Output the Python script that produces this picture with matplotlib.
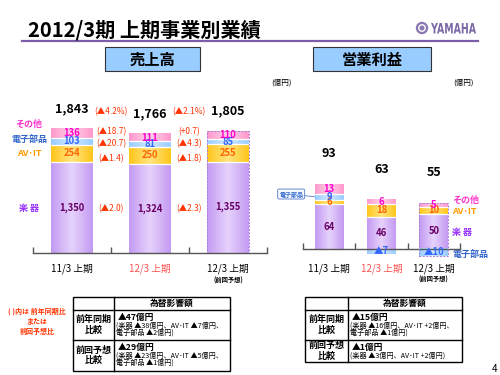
import numpy as np
import matplotlib.pyplot as plt
from matplotlib.colors import to_rgb
from matplotlib.patches import Rectangle, Circle, PathPatch
from matplotlib.textpath import TextPath
from matplotlib.font_manager import FontProperties
from matplotlib.transforms import Affine2D

plt.rcParams['font.family'] = ['Noto Sans CJK JP', 'DejaVu Sans']

# ---- data ----
periods = ['11/3 上期', '12/3 上期', '12/3 上期']
period_note = '(前回予想)'
segments = ['楽 器', 'AV･IT', '電子部品', 'その他']

# 売上高 (億円)
sales_instr = [1350, 1324, 1355]
sales_avit = [254, 250, 255]
sales_elec = [103, 81, 85]
sales_other = [136, 111, 110]
sales_total = [1843, 1766, 1805]
# changes: 楽器, AV･IT, 電子部品, その他, total
chg_vs_prev_year = ['(▲2.0)', '(▲1.4)', '(▲20.7)', '(▲18.7)', '(▲4.2%)']
chg_vs_forecast = ['(▲2.3)', '(▲1.8)', '(▲4.3)', '(+0.7)', '(▲2.1%)']

# 営業利益 (億円)
op_instr = [64, 46, 50]
op_avit = [6, 18, 10]
op_elec = [9, -7, -10]
op_other = [13, 6, 5]
op_total = [93, 63, 55]

# ---- style ----
seg_edge = ['#c49af2', '#ffc61a', '#99ccff', '#ff99cc']
seg_mid = ['#e6d2fc', '#ffe480', '#d2e8ff', '#ffd0e8']
seg_num_col = ['#660066', '#ff6600', '#3366ff', '#ff00cc']
seg_leg_col = ['#9933ff', '#ff9900', '#3366cc', '#ff33cc']
period_col = ['black', '#ff5050', 'black']
red = '#ff3300'

W, H = 500, 375
fig = plt.figure(figsize=(5, 3.75), dpi=100)

# pixel canvas for decorations
bg = fig.add_axes([0, 0, 1, 1])
bg.set_xlim(0, W)
bg.set_ylim(H, 0)
bg.axis('off')


def ax_at(x0, y0, x1, y1):
    return fig.add_axes([x0 / W, 1 - y1 / H, (x1 - x0) / W, (y1 - y0) / H])


def grad(ax, x0, w, y0, h, c0, c1):
    t = np.linspace(0, 1, 64)
    f = 1 - np.abs(2 * t - 1)
    a, b = np.array(to_rgb(c0)), np.array(to_rgb(c1))
    img = (a[None, :] * (1 - f[:, None]) + b[None, :] * f[:, None])[None, :, :]
    ax.imshow(img, extent=[x0, x0 + w, y0, y0 + h], aspect='auto',
              interpolation='bilinear', zorder=2)


def fmt(v):
    return f'{v:,}' if v >= 0 else f'▲{abs(v)}'


def draw_stack(ax, seg_vals, width, fsize):
    n = len(seg_vals[0])
    tops = []
    for i in range(n):
        pos, neg = 0, 0
        bounds = []
        for s, vals in enumerate(seg_vals):
            v = vals[i]
            if v >= 0:
                y0 = pos
                pos += v
                bounds.append(pos)
            else:
                y0 = neg + v
                neg += v
            grad(ax, i - width / 2, width, y0, abs(v), seg_edge[s], seg_mid[s])
            ax.text(i, y0 + abs(v) / 2, fmt(v), ha='center', va='center',
                    fontsize=fsize, fontweight='bold', color=seg_num_col[s], zorder=4)
        ax.hlines(bounds[:-1], i - width / 2, i + width / 2, color='white', lw=0.9, zorder=3)
        if i == n - 1:
            ax.add_patch(Rectangle((i - width / 2, neg), width, pos - neg, fill=False,
                                   ec='#a57fd8', lw=0.7, ls=(0, (2, 1.5)), zorder=3))
        tops.append(pos)
    return tops


def style_axis(ax, ylim):
    ax.set_xlim(-0.5, 2.5)
    ax.set_ylim(*ylim)
    ax.patch.set_alpha(0)
    for sp in ['left', 'right', 'top']:
        ax.spines[sp].set_visible(False)
    ax.spines['bottom'].set_position(('data', 0))
    ax.spines['bottom'].set_color('#555555')
    ax.spines['bottom'].set_linewidth(1)
    ax.set_xticks([-0.5, 0.5, 1.5, 2.5])
    ax.set_xticklabels([])
    ax.set_yticks([])
    ax.tick_params(axis='x', direction='in', length=4, color='#555555', width=1)


def period_labels(ax, off1, off2):
    for i, p in enumerate(periods):
        ax.annotate(p, xy=(i, 0), xytext=(0, -off1), textcoords='offset points',
                    ha='center', va='center', fontsize=7, color=period_col[i],
                    annotation_clip=False)
    ax.annotate(period_note, xy=(2, 0), xytext=(0, -off2), textcoords='offset points',
                ha='center', va='center', fontsize=4.5, fontweight='bold',
                annotation_clip=False)


# ---- left chart: 売上高 ----
ax1 = ax_at(33, 90, 267, 253)
tops = draw_stack(ax1, [sales_instr, sales_avit, sales_elec, sales_other], 0.53, 6.8)
style_axis(ax1, (0, 2418))
for i, t in enumerate(sales_total):
    ax1.annotate(f'{t:,}', xy=(i, tops[i]), xytext=(0, 14.5), textcoords='offset points',
                 ha='center', va='center', fontsize=9, fontweight='bold')
chg_label_y = [660, 1400, 1620, 1800, 2100]
for k in range(5):
    ax1.text(0.5, chg_label_y[k], chg_vs_prev_year[k], ha='center', va='center',
             fontsize=6, color=red)
    ax1.text(1.5, chg_label_y[k], chg_vs_forecast[k], ha='center', va='center',
             fontsize=6, color=red)
period_labels(ax1, 11.5, 19.5)

# ---- right chart: 営業利益 ----
w2 = 0.55
ax2 = ax_at(303, 90, 460, 262)
tops = draw_stack(ax2, [op_instr, op_avit, op_elec, op_other], w2, 6.8)
style_axis(ax2, (-18.6, 227))
for i, t in enumerate(op_total):
    ax2.annotate(f'{t}', xy=(i, tops[i]), xytext=(0, 22), textcoords='offset points',
                 ha='center', va='center', fontsize=9, fontweight='bold')
period_labels(ax2, 14.4, 21.6)
ax2.annotate(segments[2], xy=(-w2 / 2, op_instr[0] + op_avit[0] + op_elec[0] / 2),
             xytext=(-17, 2), textcoords='offset points', ha='center', va='center',
             fontsize=4.3, fontweight='bold', color='#3366cc', annotation_clip=False,
             bbox=dict(boxstyle='round,pad=0.25', fc='#f4f8ff', ec='#5577cc', lw=0.6),
             arrowprops=dict(arrowstyle='-', color='#5577cc', lw=0.6, shrinkA=0, shrinkB=0))

# ---- segment legend labels ----
for s, y in zip([3, 2, 1, 0], [124, 139, 153, 208]):
    bg.text(29, y, segments[s], ha='center', va='center', fontsize=6.5,
            fontweight='bold', color=seg_leg_col[s])
for s, y in zip([3, 1, 0, 2], [200, 211, 232, 254]):
    bg.text(452, y, segments[s], ha='left', va='center', fontsize=6.5,
            fontweight='bold', color=seg_leg_col[s])

# ---- header ----
bg.text(28, 30, '2012/3期 上期事業別業績', ha='left', va='center', fontsize=14.5,
        fontweight='bold')
bg.plot([22, 478], [41, 41], color='#7b5ea7', lw=1.6)
bg.add_patch(Circle((422, 28), 5.5, color='#8a78b0'))
bg.add_patch(Circle((422, 28), 3.2, color='white'))
bg.add_patch(Circle((422, 28), 1.8, color='#8a78b0'))
tp = TextPath((0, 0), 'YAMAHA', size=10, prop=FontProperties(family='DejaVu Sans', weight='bold'))
ext = tp.get_extents()
tp = tp.transformed(Affine2D().translate(-ext.x0, 0).scale(45 / ext.width, -10.5 / ext.height).translate(431, 33.5))
bg.add_patch(PathPatch(tp, color='#7a68a5', lw=0))

for (x0, x1), s in zip([(105, 200), (313, 431)], ['売上高', '営業利益']):
    bg.add_patch(Rectangle((x0, 47), x1 - x0, 24, fc='#99ccff', ec='#333333', lw=0.8))
    bg.text((x0 + x1) / 2, 59.5, s, ha='center', va='center', fontsize=11, fontweight='bold')
bg.text(281, 83, '(億円)', ha='center', va='center', fontsize=5.5)
bg.text(463, 83, '(億円)', ha='center', va='center', fontsize=5.5)

# ---- tables ----
fx_left = [('▲47億円', ['(楽器 ▲38億円、AV･IT ▲7億円、', '電子部品 ▲2億円)']),
           ('▲29億円', ['(楽器 ▲23億円、AV･IT ▲5億円、', '電子部品 ▲1億円)'])]
fx_right = [('▲15億円', ['(楽器 ▲16億円、AV･IT +2億円、', '電子部品 ▲1億円)']),
            ('▲1億円', ['(楽器 ▲3億円、AV･IT +2億円)'])]
row_names = ['前年同期\n比較', '前回予想\n比較']


def draw_table(x0, xd, x1, rows_y, rows):
    y0, yh = rows_y[0], rows_y[1]
    bg.add_patch(Rectangle((x0, y0), x1 - x0, rows_y[-1] - y0, fill=False, ec='black', lw=1))
    for y in rows_y[1:-1]:
        bg.plot([x0, x1], [y, y], color='black', lw=1)
    bg.plot([xd, xd], [y0, rows_y[-1]], color='black', lw=1)
    bg.text((xd + x1) / 2, (y0 + yh) / 2, '為替影響額', ha='center', va='center',
            fontsize=6.3, fontweight='bold')
    for r, (head, lines) in enumerate(rows):
        ya, yb = rows_y[r + 1], rows_y[r + 2]
        bg.text((x0 + xd) / 2, (ya + yb) / 2, row_names[r], ha='center', va='center',
                fontsize=6.5, fontweight='bold', linespacing=1.25)
        bg.text(xd + 4, ya + 7, head, ha='left', va='center', fontsize=6.3, fontweight='bold')
        for j, ln in enumerate(lines):
            bg.text(xd + 2, ya + 16 + 7 * j, ln, ha='left', va='center', fontsize=5.1)


draw_table(73, 114, 230, [297, 310, 340, 371], fx_left)
draw_table(305, 348, 462, [297, 310, 340, 362], fx_right)

bg.text(37, 321, '( )内は 前年同期比\nまたは\n前回予想比', ha='center', va='center',
        fontsize=5, fontweight='bold', color=red, linespacing=1.45)
bg.text(494, 369, '4', ha='center', va='center', fontsize=7)

fig.savefig('out.png', dpi=100)
